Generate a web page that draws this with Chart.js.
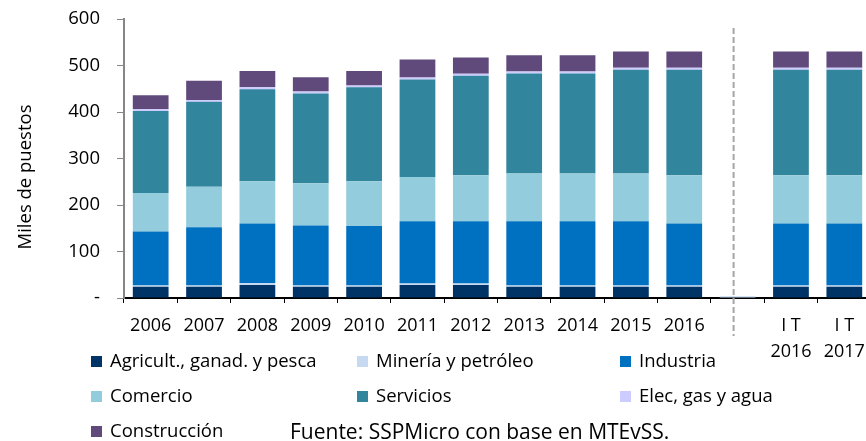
<!DOCTYPE html>
<html>
<head>
<meta charset="utf-8">
<script src="https://cdn.jsdelivr.net/npm/chart.js@4/dist/chart.umd.min.js"></script>
<style>
  body { margin: 0; overflow: hidden; background: #fff; font-family: "Open Sans", sans-serif; }
  #wrap { position: absolute; left: 0; top: 0; width: 875px; height: 441px; }
  .item { position: absolute; font-size: 18.5px; color: #000; white-space: nowrap; line-height: 20px; }
  .item i { display: inline-block; width: 11px; height: 11px; margin-right: 8px; vertical-align: 0px; }
  #fuente { position: absolute; left: 290px; top: 417px; font-size: 21px; color: #000; white-space: nowrap; line-height: 28px; }
</style>
</head>
<body>
<div id="wrap"><canvas id="grafico" width="875" height="441"></canvas></div>
<div id="leyenda"></div>
<div id="fuente">Fuente: SSPMicro con base en MTEvSS.</div>
<script>
// Puestos de trabajo por sector (miles)
const categorias = ['2006', '2007', '2008', '2009', '2010', '2011', '2012', '2013', '2014', '2015', '2016', '', ['I T', '2016'], ['I T', '2017']];
const agricultura  = [24, 24, 28, 24, 24, 28, 28, 24, 24, 24, 24, null, 24, 24];
const mineria      = [3, 3, 4, 3, 3, 3, 3, 3, 3, 3, 3, 4, 3, 3];
const industria    = [116, 125, 128, 129, 128, 134, 134, 138, 138, 138, 133, null, 133, 133];
const comercio     = [83, 87, 91, 91, 96, 95, 99, 103, 103, 103, 104, null, 104, 104];
const servicios    = [176, 183, 198, 193, 202, 210, 214, 215, 215, 223, 227, null, 227, 227];
const electricidad = [4, 4, 4, 4, 4, 4, 4, 4, 4, 4, 4, null, 4, 4];
const construccion = [30, 41, 35, 31, 31, 39, 35, 35, 35, 35, 35, null, 35, 35];
const yTicks = [0, 100, 200, 300, 400, 500, 600];

const series = [
  { label: 'Agricult., ganad. y pesca', data: agricultura, color: '#003366' },
  { label: 'Minería y petróleo', data: mineria, color: '#c6d9f1' },
  { label: 'Industria', data: industria, color: '#0070c0' },
  { label: 'Comercio', data: comercio, color: '#93cddd' },
  { label: 'Servicios', data: servicios, color: '#31859c' },
  { label: 'Elec, gas y agua', data: electricidad, color: '#ccccff' },
  { label: 'Construcción', data: construccion, color: '#604a7b' }
];

// linea punteada y titulo del eje
const extras = {
  id: 'extras',
  afterDraw(chart) {
    const c = chart.ctx;
    const x = chart.scales.x.getPixelForValue(11) - 4;
    c.save();
    c.strokeStyle = '#a6a6a6';
    c.lineWidth = 2;
    c.setLineDash([6, 3]);
    c.beginPath();
    c.moveTo(x, 28);
    c.lineTo(x, 336);
    c.stroke();
    c.restore();

    c.save();
    c.translate(26, 177);
    c.rotate(-Math.PI / 2);
    c.font = '18.5px "Open Sans"';
    c.fillStyle = '#000';
    c.textAlign = 'center';
    c.textBaseline = 'middle';
    c.fillText('Miles de puestos', 0, 0);
    c.restore();
  }
};

new Chart(document.getElementById('grafico'), {
  type: 'bar',
  data: {
    labels: categorias,
    datasets: series.map(s => ({
      label: s.label,
      data: s.data,
      backgroundColor: s.color,
      categoryPercentage: 1,
      barPercentage: 0.67
    }))
  },
  options: {
    responsive: false,
    animation: false,
    layout: { padding: { top: 19, right: 4, left: 0, bottom: 0 } },
    plugins: { legend: { display: false }, tooltip: { enabled: false } },
    scales: {
      x: {
        stacked: true,
        afterFit: s => { s.height = 143; s.paddingLeft = 0; s.paddingRight = 0; },
        border: { color: '#000', width: 2 },
        grid: { drawOnChartArea: false, offset: true, tickLength: 5, color: '#000' },
        ticks: {
          color: '#000', padding: 10, maxRotation: 0, autoSkip: false,
          font: { family: 'Open Sans', size: 18, lineHeight: '26px' }
        }
      },
      y: {
        stacked: true,
        min: 0, max: 600,
        afterFit: s => { s.width = 124; s.paddingTop = 0; s.paddingBottom = 0; },
        afterBuildTicks: s => { s.ticks = yTicks.map(v => ({ value: v })); },
        border: { color: '#868686', width: 2 },
        grid: { drawOnChartArea: false, tickLength: 7, color: '#868686' },
        ticks: {
          color: '#000', padding: 17,
          font: { family: 'Open Sans', size: 18.5 },
          callback: v => v === 0 ? '-' : v
        }
      }
    }
  },
  plugins: [extras]
});

// leyenda en tres columnas
const colX = [91, 357, 620];
const rowY = [350, 385, 420];
const ley = document.getElementById('leyenda');
series.forEach((s, i) => {
  const d = document.createElement('div');
  d.className = 'item';
  d.style.left = colX[i % 3] + 'px';
  d.style.top = rowY[Math.floor(i / 3)] + 'px';
  d.innerHTML = '<i style="background:' + s.color + '"></i>' + s.label;
  ley.appendChild(d);
});
</script>
</body>
</html>
